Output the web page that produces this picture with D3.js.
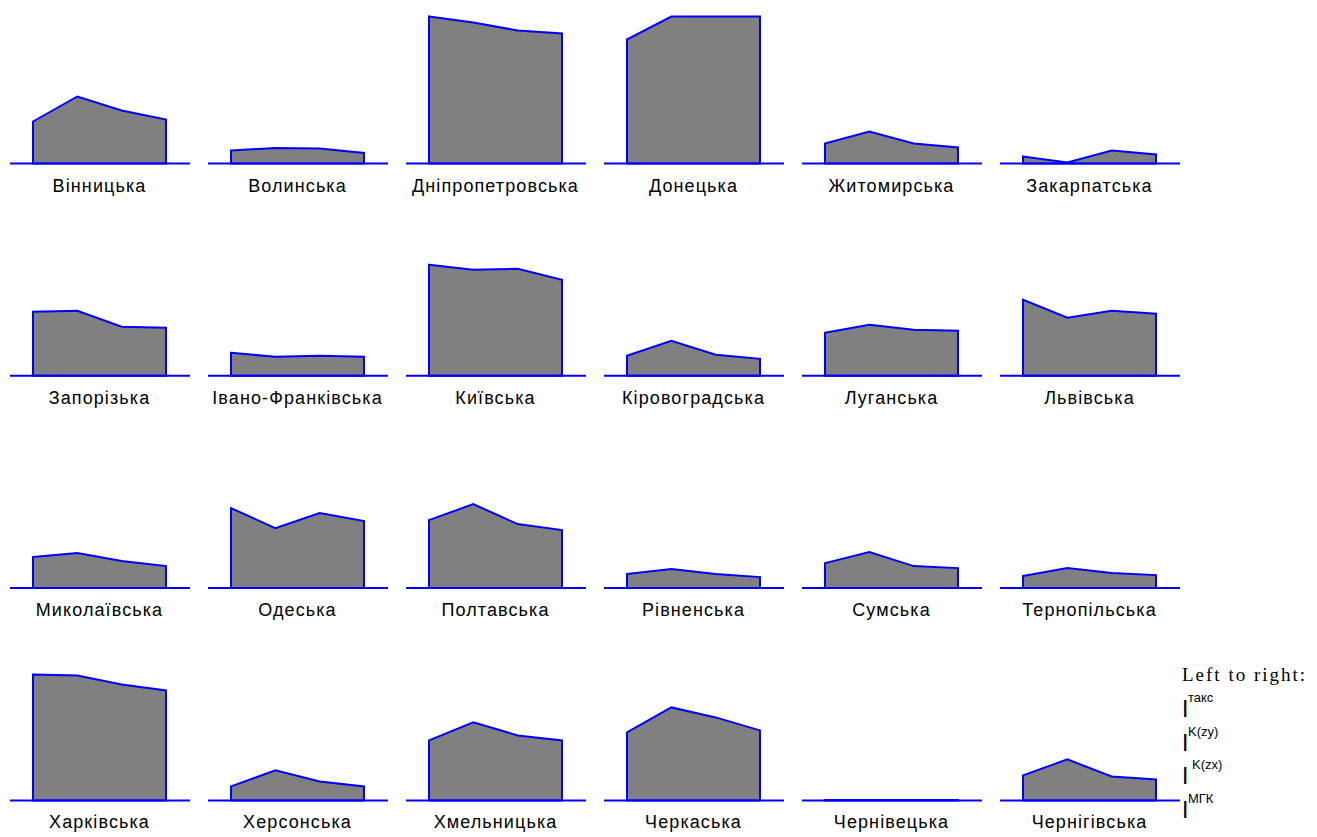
<!DOCTYPE html>
<html>
<head>
<meta charset="utf-8">
<script src="https://cdn.jsdelivr.net/npm/d3@7"></script>
<style>
  html, body { margin: 0; padding: 0; background: #fff; }
  svg { display: block; }
</style>
</head>
<body>
<svg id="chart" width="1317" height="837"></svg>
<script>
// Regions (panels, left-to-right, top-to-bottom)
const regions = [
  "Вінницька", "Волинська", "Дніпропетровська", "Донецька", "Житомирська", "Закарпатська",
  "Запорізька", "Івано-Франківська", "Київська", "Кіровоградська", "Луганська", "Львівська",
  "Миколаївська", "Одеська", "Полтавська", "Рівненська", "Сумська", "Тернопільська",
  "Харківська", "Херсонська", "Хмельницька", "Черкаська", "Чернівецька", "Чернігівська"
];

// Series (drawn left to right inside each panel)
const seriesKeys = ["такс", "K(zy)", "K(zx)", "МГК"];

const iTaks = [42, 13, 147, 124, 20, 7,   64, 23, 111, 20, 43, 76,   31, 80, 68, 14, 25, 12,   126, 14, 60, 68, 0.4, 25];
const iKzy  = [67, 15.5, 141, 147, 32, 1,  65, 19, 106, 35, 51, 58,   35, 60, 84, 19, 36, 20,   125, 30, 78, 93, 0.4, 41];
const iKzx  = [53, 15, 133, 147, 20, 13,  49, 20, 107, 21, 46, 65,   27, 75, 64, 14, 22, 15,   116, 19, 65, 83, 0.4, 24];
const iMgk  = [44, 10.5, 130, 147, 16, 9, 48, 19, 96, 17, 45, 62,    22, 67, 58, 11, 20, 13,   110, 14, 60, 70, 0.4, 21];

const legendTitle = "Left to right:";

const svg = d3.select("#chart");
const nCols = 6;
const colStep = 198, rowStep = 212.3;
const firstBase = 163.5;
const panelLeft = 10, panelWidth = 180;
const maxVal = 147, maxPx = 147;

const x = d3.scalePoint().domain(seriesKeys).range([23, 156]);
const seriesArrays = [iTaks, iKzy, iKzx, iMgk];

regions.forEach((name, i) => {
  const col = i % nCols, row = Math.floor(i / nCols);
  const ox = col * colStep + panelLeft;
  const base = firstBase + row * rowStep;
  const y = d3.scaleLinear().domain([0, maxVal]).range([base, base - maxPx]);
  const data = seriesKeys.map((k, j) => ({ key: k, v: seriesArrays[j][i] }));
  const g = svg.append("g").attr("transform", `translate(${ox},0)`);

  const area = d3.area()
    .x(d => x(d.key))
    .y0(y(0))
    .y1(d => y(d.v));

  g.append("path")
    .datum(data)
    .attr("d", area(data) + "Z")
    .attr("fill", "#808080")
    .attr("stroke", "#0000ff")
    .attr("stroke-width", 2)
    .attr("stroke-linejoin", "miter");

  g.append("line")
    .attr("x1", 0).attr("x2", panelWidth)
    .attr("y1", y(0)).attr("y2", y(0))
    .attr("stroke", "#0000ff")
    .attr("stroke-width", 2);

  g.append("text")
    .attr("x", (x.range()[0] + x.range()[1]) / 2)
    .attr("y", y(0) + 28)
    .attr("text-anchor", "middle")
    .attr("font-family", "Liberation Sans, Arial, sans-serif")
    .attr("font-size", 18)
    .attr("letter-spacing", 1.1)
    .attr("fill", "#000")
    .text(name);
});

// Legend
const lg = svg.append("g").attr("transform", "translate(1182,0)");
lg.append("text")
  .attr("x", 0).attr("y", 681)
  .attr("font-family", "Liberation Serif, Times New Roman, serif")
  .attr("font-size", 19)
  .attr("letter-spacing", 2)
  .attr("fill", "#000")
  .text(legendTitle);

seriesKeys.forEach((k, j) => {
  const top = 697 + j * 33.5;
  lg.append("text")
    .attr("x", 0).attr("y", top + 20)
    .attr("font-family", "Liberation Sans, Arial, sans-serif")
    .attr("font-size", 23)
    .attr("fill", "#000")
    .text("I");
  lg.append("text")
    .attr("x", k === "K(zx)" ? 10 : 6).attr("y", top + 5)
    .attr("font-family", "Liberation Sans, Arial, sans-serif")
    .attr("font-size", 13)
    .attr("fill", "#000")
    .text(k);
});
</script>
</body>
</html>
